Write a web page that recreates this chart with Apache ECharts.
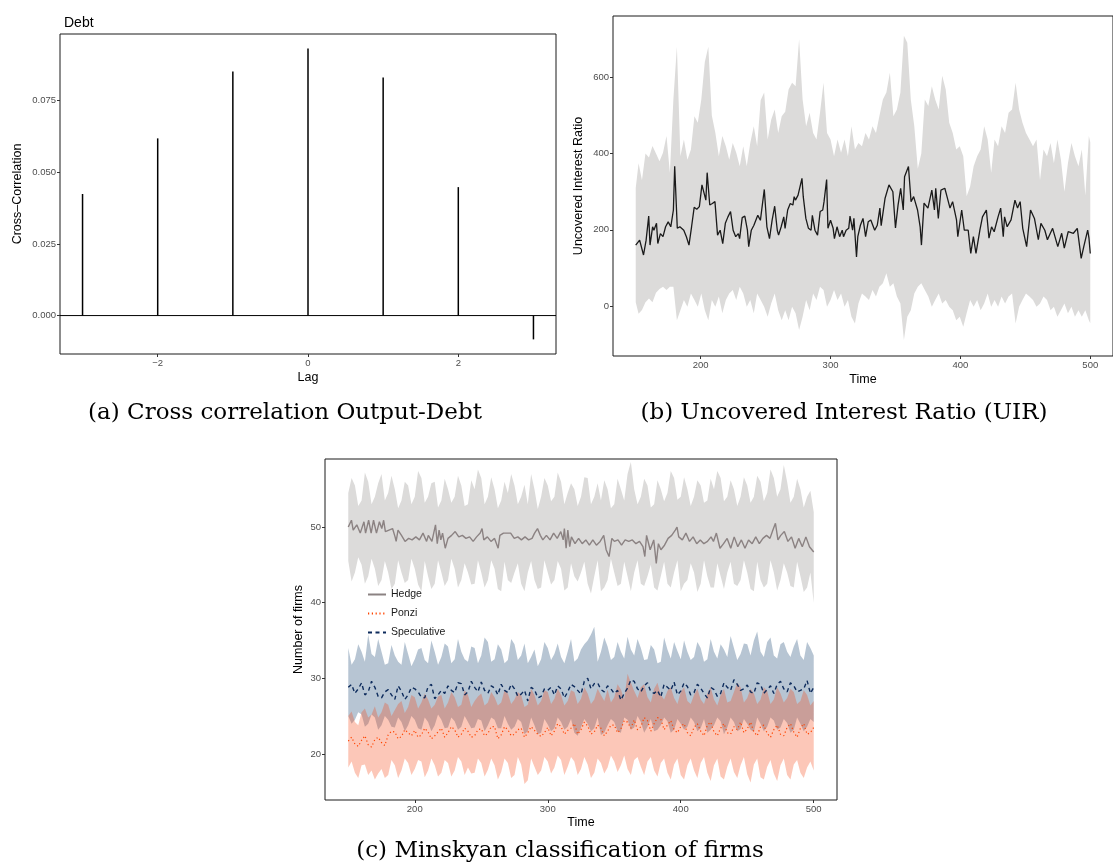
<!DOCTYPE html>
<html>
<head>
<meta charset="utf-8">
<script src="https://cdn.jsdelivr.net/npm/echarts@6/dist/echarts.min.js"></script>
<style>html,body{margin:0;padding:0;background:#fff;}#c{width:1113px;height:867px;}</style>
</head>
<body>
<div id="c"></div>
<script>
// ---------- Panel (a): cross correlation Output-Debt ----------
const lags = [-3, -2, -1, 0, 1, 2, 3];
const ccf = [0.0424, 0.0618, 0.0851, 0.0931, 0.0830, 0.0448, -0.0083];
const ccfTicks = [0, 0.025, 0.05, 0.075];
const lagTicks = [-2, 0, 2];

// ---------- Panel (b): Uncovered Interest Ratio ----------
const uirTime = [150,153,156,158,160,161,163,164,166,167,169,171,173,175,177,179,180,182,184,187,189,191,193,195,197,199,201,202,204,205,207,209,211,213,215,217,219,221,223,225,227,229,230,232,234,236,237,239,241,243,244,246,247,249,251,253,255,257,259,260,262,264,265,267,269,271,272,273,275,276,278,279,281,283,285,286,288,290,292,294,295,297,298,300,302,303,305,307,309,310,312,314,315,317,318,320,321,323,325,327,329,331,334,336,338,339,342,345,348,350,352,354,356,357,360,362,364,367,369,370,372,375,378,380,381,383,385,388,390,392,394,397,398,401,403,406,408,410,412,415,417,420,422,424,426,429,431,433,434,436,439,442,444,446,448,451,454,457,460,462,465,467,471,475,478,480,483,487,490,493,495,498,499,500];
const uirMean = [160,173,134,173,236,160,208,199,217,164,190,182,208,221,208,252,367,204,208,199,182,160,208,259,254,261,318,322,278,350,265,269,274,186,199,164,217,234,248,199,182,190,177,232,236,199,156,199,212,230,238,225,230,306,208,177,225,262,199,186,208,234,204,252,269,265,287,278,291,287,335,287,230,204,199,238,199,186,248,252,274,332,204,225,204,177,208,182,199,182,199,204,236,199,230,129,182,212,230,182,221,226,199,212,257,211,283,318,300,205,265,309,252,339,366,274,287,252,208,160,270,257,304,252,309,230,304,309,283,257,274,226,182,252,199,199,138,182,138,199,234,252,178,208,195,234,257,182,234,208,226,278,257,274,204,156,252,230,174,217,199,174,204,156,191,152,195,191,204,125,156,199,178,138];
const uirBandTime = [150,152.2,154.8,157.5,160.2,162.9,165.6,168.3,171.0,173.7,176.3,179.0,181.7,184.4,187.1,189.8,192.5,195.2,197.8,200.5,203.2,205.9,208.6,211.3,214.0,216.7,219.4,222.0,224.7,227.4,230.1,232.8,235.5,238.2,240.9,243.5,246.2,248.9,251.6,254.3,257.0,259.7,262.4,265.1,267.7,270.4,273.1,275.8,278.5,281.2,283.9,286.6,289.2,291.9,294.6,297.3,300.0,302.7,305.4,308.1,310.8,313.4,316.1,318.8,321.5,324.2,326.9,329.6,332.3,335.0,337.6,340.3,343.0,345.7,348.4,351.1,353.8,356.5,359.1,361.8,364.5,367.2,369.9,372.6,375.3,378.0,380.6,383.3,386.0,388.7,391.4,394.1,396.8,399.5,402.2,404.8,407.5,410.2,412.9,415.6,418.3,421.0,423.7,426.3,429.0,431.7,434.4,437.1,439.8,442.5,445.2,447.8,450.5,453.2,455.9,458.6,461.3,464.0,466.7,469.4,472.0,474.7,477.4,480.1,482.8,485.5,488.2,490.9,493.5,496.2,498.9,500];
const uirUpper = [310,
  375,330,400,390,420,400,380,402,446,349,
  542,680,393,437,384,411,498,481,542,640,
  680,500,455,393,446,419,384,428,402,367,
  419,367,428,472,419,540,560,437,489,516,
  454,498,510,568,586,577,700,542,472,507,
  454,437,507,586,454,437,393,437,402,437,
  393,472,411,428,419,454,437,472,454,498,
  542,560,612,498,516,560,709,691,542,472,
  360,400,542,525,577,542,516,604,568,481,
  454,411,419,393,288,314,367,393,411,472,
  437,350,437,419,472,454,507,516,586,516,
  481,454,437,419,437,330,411,393,428,375,
  437,384,300,375,428,393,367,411,290,446,
  430];
const uirLower = [10,
  -20,-10,10,20,10,35,45,51,42,51,
  51,-37,-11,16,-2,33,16,-2,33,-11,
  -37,16,-2,25,-19,16,33,42,16,51,
  33,-2,16,-19,33,16,-2,-28,7,33,
  -11,-37,-11,-37,-2,-19,-63,-28,16,-11,
  33,16,51,42,-2,16,42,16,33,-2,
  16,-28,-46,7,33,25,16,42,25,51,
  60,86,51,60,25,7,-89,-28,-11,33,
  51,60,42,25,-2,16,33,7,16,-2,
  -11,-37,-28,-54,-19,16,-2,16,-11,7,
  33,-2,16,-2,25,7,25,33,-46,-2,
  16,33,25,16,-2,7,25,16,-11,-2,
  -28,-11,7,-19,-2,-28,-11,-28,-11,-37,
  -45];
const uirTicks = [0, 200, 400, 600];
const timeTicks = [200, 300, 400, 500];

// ---------- Panel (c): Minskyan classification ----------
const hedgeTime = [150,152.4,153.7,156.4,159,161.8,163,165.3,167.2,169,171.2,173.4,175.2,176.6,177.9,180.6,183.3,185.2,186,187.4,190,192.7,195.4,198,200.8,203.5,206.2,208.9,210.2,212.9,215.6,216.9,218.3,219.6,220.9,222.9,225,227.7,230.4,233.1,235.8,238.5,241.2,243.9,246.5,249.2,250.6,251.9,254.6,257.3,260,262.7,264,266.7,269.4,272.1,274.8,277.5,280.2,282.9,285.6,288.2,290.1,292.3,294.4,296.3,299,301.7,304.4,307.1,309.8,311.6,312.5,313.8,315.1,316.5,317.8,320.5,323.2,325.9,328.6,331.3,333.9,336.6,339.4,342.1,343.9,346.1,348.2,350.1,352.8,355.5,358.2,360.9,363.6,366.3,369,371.6,373,374.3,377,379.7,381.6,383.2,385.1,387.8,390.5,393.2,395.9,397.2,398.5,401.2,403.9,406.6,409.3,412,414.7,417.4,420.1,422.8,424.6,426.8,429.5,432.2,434.9,437.6,440.2,442.9,445.6,448.3,451,453.7,456.4,459.1,461.8,464.5,467.1,469.3,471.2,473.1,475.2,477.9,480.6,483.3,486,488.7,491.4,494.1,496.8,500];
const hedgeMean = [50.0,50.9,49.6,50.3,49.2,50.7,49.2,50.9,49.2,50.9,49.2,50.7,49.8,50.9,49.4,49.6,49.8,48.7,48.1,49.6,48.9,48.1,48.5,48.3,48.7,48.3,49.2,48.1,48.9,48.1,50.3,47.8,49.6,48.3,49.2,47.2,48.5,48.9,49.4,48.7,48.9,48.5,48.7,48.1,48.7,49.2,49.8,48.3,48.7,48.1,48.5,47.2,48.9,49.2,49.2,49.2,48.5,48.7,48.3,48.7,48.3,48.5,49.2,49.8,48.9,48.3,48.9,48.3,49.2,48.5,49.4,48.3,49.8,47.2,49.6,47.4,48.7,47.8,48.5,47.8,48.3,47.6,48.3,47.6,48.1,48.9,47.0,46.1,48.5,48.1,48.3,47.6,48.3,48.1,48.3,47.8,48.1,47.4,46.1,48.9,47.0,48.3,45.2,47.8,47.0,47.6,48.5,48.9,49.6,50.0,48.7,48.3,49.2,48.1,48.7,47.8,48.3,47.8,48.1,48.7,48.1,49.2,47.2,47.8,48.5,47.2,48.7,47.4,48.3,47.2,48.3,47.8,48.7,47.8,48.5,48.9,48.5,49.6,50.5,48.3,48.9,49.4,48.1,48.7,47.2,48.5,47.4,48.7,47.4,46.7];
// step-5 readings at 150..500 and in-between readings at 152.5..497.5
const pcTime = [150,155,160,165,170,175,180,185,190,195,200,205,210,215,220,225,230,235,240,245,250,255,260,265,270,275,280,285,290,295,300,305,310,315,320,325,330,335,340,345,350,355,360,365,370,375,380,385,390,395,400,405,410,415,420,425,430,435,440,445,450,455,460,465,470,475,480,485,490,495,500];
const pcTimeMid = [152.5,157.5,162.5,167.5,172.5,177.5,182.5,187.5,192.5,197.5,202.5,207.5,212.5,217.5,222.5,227.5,232.5,237.5,242.5,247.5,252.5,257.5,262.5,267.5,272.5,277.5,282.5,287.5,292.5,297.5,302.5,307.5,312.5,317.5,322.5,327.5,332.5,337.5,342.5,347.5,352.5,357.5,362.5,367.5,372.5,377.5,382.5,387.5,392.5,397.5,402.5,407.5,412.5,417.5,422.5,427.5,432.5,437.5,442.5,447.5,452.5,457.5,462.5,467.5,472.5,477.5,482.5,487.5,492.5,497.5];
const hedgeUpper = [54.5,55.5,53.5,56,54,57,54.5,55,53.5,55.5,54,56.5,54,56,53.5,55,54,55.5,53,55,56.5,54,55,53.5,54.5,55.5,54,53,55,54,55.5,54,56,54.5,55,54,56.5,54,53.5,55,53,55,57,55,54,55.5,53,55,54.5,56.5,54,55,54,55.5,53.5,55,56.5,54,55,54,55.5,54,56,54.5,56.5,55,56,54,55,54,52];
const hedgeUpperMid = [56.5,52.8,57.2,53,55.8,53.5,56.8,52.5,56,53,57.4,53.2,55.8,52.6,56.4,53.2,56.8,52.8,56.2,57.6,53,56.6,52.5,56,57,53,55.6,57,52.4,56.5,53.4,57.2,53,55.8,52.8,56.6,53,55.8,56.2,52.5,56.4,53.5,58.6,53,56.4,52.6,56.2,53.4,57.4,53.6,56.6,52.8,56.2,53.2,56.4,57.4,53.4,56.2,52.8,56.6,53.2,56.8,53.4,57.6,54,58.2,53.2,56.4,52.6,54.8];
const hedgeLower = [45.5,44,45,43.5,44.5,43,44,42.5,44,43,44.5,41.5,43.5,42.5,44,43,44.5,43,44,42.5,44,43,44.5,41.5,43,44,42.5,44,43,42,44,43,44.5,42,43.5,44,42.5,43.5,41.5,43,44,42.5,43.5,44,42.5,43.5,42,43.5,42.5,44,41.5,43,44,42.5,43.5,42,43.5,44,42.5,43,44,41.5,43,42.5,44,43,44,42,43.5,42,40];
const hedgeLowerMid = [42.8,46,42.5,45.8,42.2,45.5,41.8,45.6,42.6,45.8,42.4,45.5,41.8,45.6,42.2,45.8,42,45.2,42.4,45.6,42,45.6,41.8,45.4,42.6,45.2,41.5,45.5,41.8,45.6,42.4,45.5,41.6,45.2,42.8,45.4,41.2,45.6,42,45.8,42.2,45.4,41.5,45.6,42.2,45,41.6,45.4,42,45.6,42.5,45.2,41.4,45.6,42,45.2,41.8,45.4,42.2,45.6,41.8,45.4,42,45.6,41.6,45.2,42.2,45.4,41.4,44];
const specMean = [28.8,28.0,29.4,28.2,28.8,27.4,28.5,27.2,28.3,27.8,28.6,27.5,28.9,27.3,28.4,29.0,28.1,29.3,28.2,28.8,29.5,28.0,28.7,29.2,28.1,28.6,27.9,27.0,28.5,27.6,28.4,27.8,28.6,28.2,28.9,27.9,30.0,29.3,28.5,29.0,28.0,27.1,28.7,29.6,28.2,29.4,28.0,27.5,28.8,29.5,28.3,28.9,28.1,28.7,27.4,28.5,28.0,28.8,29.8,28.4,29.1,28.0,29.2,28.5,28.0,29.6,28.2,29.0,28.4,29.7,28.8];
const specMeanMid = [29.2,28.6,27.8,29.6,27.6,28.2,27.8,29.0,27.2,28.8,28.2,27.4,29.2,27.8,28.0,28.4,29.4,27.8,29.6,28.2,28.4,29.0,27.8,28.4,29.2,27.6,28.4,28.8,27.4,28.6,28.8,29.0,27.4,29.2,28.4,29.6,28.6,29.4,28.2,28.6,28.4,28.0,29.8,28.6,29.0,28.2,28.4,29.2,28.4,27.8,29.4,27.8,29.2,28.0,28.8,27.6,29.4,28.4,29.2,28.6,28.2,29.4,28.0,29.0,29.2,28.6,29.4,28.2,28.6,28.0];
const specUpper = [34,32.5,33.5,35.8,32.8,33.5,32,33,31.8,33.2,32.5,34,32,33.5,32.8,34.2,32.5,33.5,32.2,34,33,34.8,32.5,33.8,32.4,34.5,33,32,33.8,32.5,34,33.2,32.8,33.5,32.2,33.8,35,36.8,33.5,34.2,32.8,33.5,35.5,33,34,32.5,33.8,32.2,33.8,34.8,32.5,33.5,32.8,34,32.5,33.5,34.5,32.8,34,33.2,34.5,35,33.5,34.8,33,34.5,33.5,34.2,33,34.8,33];
const specUpperMid = [31.8,34.5,32.2,33.2,35.2,31.8,34.4,32.2,34.8,31.6,33.8,32.4,35,31.8,34.6,32,35.2,32.5,34.2,32,35.4,32.2,34.5,32,35.2,32.4,34.6,32.8,31.6,34.8,32.4,34.6,32,35.2,32.6,34.5,35.8,32.2,35.4,32.4,34.8,32.6,33.8,35.2,32.4,34.4,32,35.4,32.6,33.6,35,32.4,34.8,32.2,35.2,32.6,33.8,35.6,32.4,34.6,33,36.2,32.8,35.4,32.6,34.8,32.8,35.2,32.4,34];
const specLower = [25,24.5,25.2,24,24.8,23.8,24.5,23.5,24.2,23.8,24.5,23.2,24.2,23.8,24.5,23.5,24.3,23.6,24.2,23.5,24.4,23.8,24.5,23.4,24,23.6,24.2,23,23.8,22.8,23.9,23.4,24.2,23.6,22.8,23.5,24,23.4,22.5,23.8,24.2,22.8,24.5,23.5,24.2,23.6,23,23.8,24.3,23.2,24,23.6,24.2,23.4,22.8,23.8,24.3,23.5,24.2,23.3,24,22.9,24,23.6,24.4,23.5,24.1,23.2,24,23.6,24.2];
const specLowerMid = [24,25.5,23.6,25.2,23.2,25,23.6,24.8,23,25,23.4,24.8,23,25.2,23.4,24.8,23.2,25,23.4,24.6,23,24.8,23.4,25,23.2,24.6,22.6,24.8,22.6,24.6,23,24.8,23.2,24.6,22.4,24.6,23,24.8,22.8,24.6,23,24.8,23.2,25,22.8,24.6,23.2,24.8,22.8,24.6,23.2,24.8,23,24.6,23.2,24.8,22.6,24.8,23,24.6,23.2,24.8,23,24.8,23.2,24.6,22.8,24.8,23,24.6];
const ponziMean = [21.7,21.3,21.8,21.2,21.9,21.5,22.5,22.9,22.3,22.8,23.1,22.5,22.9,22.4,23.4,22.8,23.2,22.6,23.0,22.4,23.3,22.7,23.6,22.5,23.2,22.6,23.4,22.8,23.1,22.3,23.5,23.0,23.6,23.1,24.0,23.2,23.7,22.9,23.4,23.0,23.8,23.3,24.2,24.5,23.6,24.4,24.0,24.6,23.8,23.2,23.6,22.8,23.5,23.0,23.8,22.9,23.4,22.8,23.6,24.2,23.3,22.9,23.6,22.7,23.2,22.6,23.5,22.9,23.4,22.6,23.5];
const ponziMeanMid = [22.2,21.0,22.4,20.9,22.2,21.1,23.0,22.0,23.2,22.4,22.2,23.4,22.0,22.9,22.2,23.6,22.2,23.4,22.2,23.2,22.4,23.6,22.0,23.6,22.4,23.2,22.2,23.6,22.6,22.8,22.4,24.0,22.6,23.4,22.6,24.2,22.6,23.8,22.4,23.8,22.8,24.4,23.4,23.2,24.8,23.0,24.8,23.2,24.4,22.8,24.0,22.4,24.0,22.4,24.2,22.4,24.0,22.6,23.2,22.8,24.2,22.4,23.8,22.2,23.8,22.4,24.0,22.2,24.0,22.8];
const ponziUpper = [25,24.2,25.5,24.8,26.3,25.5,26.5,25.8,27,26.2,27.5,26.8,27.2,26.5,27.8,26.8,27.5,26.5,27.8,27,28,26.8,27.5,26.8,28,27.2,27.8,26.5,27.8,27,28.2,27.3,27.8,27,28.2,27.3,28,27.2,27.8,28.5,27.5,28.5,30.6,28.3,28.8,27.5,28.6,27.8,28.3,27.4,28.2,27,27.8,27.2,28,27.2,27.8,26.8,28.2,28.8,27.4,28,27.2,28.3,27.2,28,27.4,28.2,27,27.8,27];
const ponziUpperMid = [25.6,23.8,26,25.2,24.8,26.8,25,26.6,25.4,27.8,26,28,26,27.6,26,28.2,26.2,28.4,26.2,27.6,26.4,28.2,26.4,28.4,26.6,28.2,26.2,28.6,26.4,28.4,26.6,28.6,26.4,28.4,26.6,28.8,26.6,28.6,27,26.8,29.2,27.2,29.4,27.4,29.2,26.8,29.4,27.2,28.8,26.6,28.8,26.6,28.6,26.6,28.8,26.4,28.6,27,29.4,26.8,28.6,26.6,28.8,26.6,28.8,26.8,28.6,26.6,28.4,26.4];
const ponziLower = [18.2,17.5,18.5,17.2,16.6,18,17.2,18.5,17.8,18.8,18,19,17.8,18.5,17.5,18.8,17.8,19,18.2,17.5,18.8,17.9,18.5,17.6,18.8,17.2,18.6,16.5,18.3,17.8,19,18.2,19.2,18.3,19,18,18.6,17.5,18.8,18.2,19,18.5,18,19.2,18.3,19,17.8,18.8,17.5,18.6,17.2,18.5,17.8,18.8,17.5,18.5,17,18.3,17.6,18.5,17.3,18.6,16.9,18.3,17.4,18.5,17.2,18.6,17.5,18.2,17.8];
const ponziLowerMid = [19,16.8,18.6,17.8,17.4,16.8,19.2,16.8,19.4,17.2,19.2,16.9,19.4,17,19.2,17,19.6,17.2,17.4,19.4,17,19.4,16.6,19.4,16.8,19.6,16,19.4,17.2,19.6,17.4,19.8,17.2,19.6,17.2,19.6,16.8,19.4,17.4,19.8,17.6,19.8,17.2,19.6,17.2,19.6,17,19.4,16.6,19.4,16.6,19.4,16.8,19.6,16.4,19.4,16.6,19.4,16.8,19.6,16.2,19.4,16.6,19.2,16.4,19.4,16.6,19.2,16.8,19];
const firmTicks = [20, 30, 40, 50];
const captions = ['(a) Cross correlation Output-Debt', '(b) Uncovered Interest Ratio (UIR)', '(c) Minskyan classification of firms'];

// ---------- build ----------
const SANS = '"Liberation Sans", Arial, sans-serif';
const SERIF = '"DejaVu Serif", serif';
const zip2 = (a, b) => a.map((v, i) => [v, b[i]]);
const weave = (a, b) => { const r = []; a.forEach((v, i) => { r.push(v); if (i < b.length) r.push(b[i]); }); return r; };
const minus = v => (v < 0 ? '\u2212' + Math.abs(v) : String(v));
const cTime = weave(pcTime, pcTimeMid);

function band(name, gi, times, lo, hi, color) {
  return {
    name: name, type: 'custom', xAxisIndex: gi, yAxisIndex: gi, silent: true, clip: true, z: 1,
    data: times.map((t, i) => [t, lo[i], hi[i]]),
    encode: { x: 0, y: [1, 2] },
    renderItem: function (params, api) {
      if (params.dataIndex !== 0) return null;
      const pts = [];
      for (let i = 0; i < times.length; i++) pts.push(api.coord([times[i], hi[i]]));
      for (let i = times.length - 1; i >= 0; i--) pts.push(api.coord([times[i], lo[i]]));
      return { type: 'polygon', shape: { points: pts }, style: { fill: color } };
    }
  };
}

function xAx(gi, min, max, ticks, name, gap) {
  return {
    type: 'value', gridIndex: gi, min: min, max: max,
    name: name, nameLocation: 'middle', nameGap: gap,
    nameTextStyle: { fontSize: 12.5, color: '#000', fontFamily: SANS },
    axisLine: { show: false, onZero: false }, splitLine: { show: false },
    axisTick: { show: true, length: 3, lineStyle: { color: '#333' }, customValues: ticks },
    axisLabel: { fontSize: 9.5, color: '#4d4d4d', margin: 4, fontFamily: SANS, customValues: ticks, formatter: minus }
  };
}
function yAx(gi, min, max, ticks, name, gap, fmt) {
  return {
    type: 'value', gridIndex: gi, min: min, max: max,
    name: name, nameLocation: 'middle', nameGap: gap, nameRotate: 90,
    nameTextStyle: { fontSize: 12.5, color: '#000', fontFamily: SANS },
    axisLine: { show: false, onZero: false }, splitLine: { show: false },
    axisTick: { show: true, length: 3, lineStyle: { color: '#333' }, customValues: ticks },
    axisLabel: { fontSize: 9.5, color: '#4d4d4d', margin: 4, fontFamily: SANS, customValues: ticks, formatter: fmt }
  };
}

const chart = echarts.init(document.getElementById('c'), null, { renderer: 'canvas' });
const option = {
  animation: false,
  backgroundColor: '#fff',
  textStyle: { fontFamily: SANS },
  title: { text: 'Debt', left: 59, top: 11, textStyle: { fontSize: 14, fontWeight: 'normal', color: '#000', fontFamily: SANS } },
  grid: [
    { left: 60, top: 34, width: 496, height: 320, show: true, borderColor: '#1a1a1a', borderWidth: 1, backgroundColor: 'transparent' },
    { left: 613, top: 16, width: 505, height: 340, show: true, borderColor: '#1a1a1a', borderWidth: 1, backgroundColor: 'transparent' },
    { left: 325, top: 459, width: 512, height: 341, show: true, borderColor: '#1a1a1a', borderWidth: 1, backgroundColor: 'transparent' }
  ],
  xAxis: [
    xAx(0, -3.3, 3.3, lagTicks, 'Lag', 17),
    xAx(1, 132.5, 517.5, timeTicks, 'Time', 17),
    xAx(2, 132.5, 517.5, timeTicks, 'Time', 16)
  ],
  yAxis: [
    yAx(0, -0.0134, 0.0982, ccfTicks, 'Cross\u2013Correlation', 36, v => v.toFixed(3)),
    yAx(1, -131, 761, uirTicks, 'Uncovered Interest Ratio', 28, v => String(v)),
    yAx(2, 13.9, 59, firmTicks, 'Number of firms', 20, v => String(v))
  ],
  legend: {
    data: ['Hedge', 'Ponzi', 'Speculative'],
    orient: 'vertical', left: 362, top: 584, itemWidth: 18, itemHeight: 12, itemGap: 8,
    selectedMode: false,
    itemStyle: { color: 'rgba(0,0,0,0)', borderColor: 'rgba(0,0,0,0)', borderWidth: 0 },
    textStyle: { fontSize: 10.5, color: '#1a1a1a', fontFamily: SANS }
  },
  graphic: [
    { type: 'text', x: 285, y: 413, style: { text: captions[0], fontSize: 23, fontFamily: SERIF, fill: '#000', align: 'center', verticalAlign: 'middle' } },
    { type: 'text', x: 844, y: 413, style: { text: captions[1], fontSize: 23, fontFamily: SERIF, fill: '#000', align: 'center', verticalAlign: 'middle' } },
    { type: 'text', x: 560, y: 851, style: { text: captions[2], fontSize: 23, fontFamily: SERIF, fill: '#000', align: 'center', verticalAlign: 'middle' } }
  ],
  series: [
    // panel a
    { type: 'line', xAxisIndex: 0, yAxisIndex: 0, data: [[-3.3, 0], [3.3, 0]], symbol: 'none', silent: true,
      lineStyle: { color: '#000', width: 1 }, z: 2 },
    { type: 'custom', xAxisIndex: 0, yAxisIndex: 0, data: zip2(lags, ccf), z: 3,
      renderItem: function (params, api) {
        const p0 = api.coord([api.value(0), 0]);
        const p1 = api.coord([api.value(0), api.value(1)]);
        return { type: 'line', shape: { x1: p0[0], y1: p0[1], x2: p1[0], y2: p1[1] }, style: { stroke: '#000', lineWidth: 1.5 } };
      } },
    // panel b
    band('uirBand', 1, uirBandTime, uirLower, uirUpper, '#dcdbda'),
    { name: 'UIR', type: 'line', xAxisIndex: 1, yAxisIndex: 1, data: zip2(uirTime, uirMean), symbol: 'none', z: 3,
      itemStyle: { color: '#1a1a1a' }, lineStyle: { color: '#1a1a1a', width: 1.3 } },
    // panel c
    band('hedgeBand', 2, cTime, weave(hedgeLower, hedgeLowerMid), weave(hedgeUpper, hedgeUpperMid), '#dcdbda'),
    band('specBand', 2, cTime, weave(specLower, specLowerMid), weave(specUpper, specUpperMid), 'rgba(16,64,110,0.3)'),
    band('ponziBand', 2, cTime, weave(ponziLower, ponziLowerMid), weave(ponziUpper, ponziUpperMid), 'rgba(245,70,20,0.3)'),
    { name: 'Hedge', type: 'line', xAxisIndex: 2, yAxisIndex: 2, data: zip2(hedgeTime, hedgeMean), symbol: 'none', z: 3,
      itemStyle: { color: '#8b8282' }, lineStyle: { color: '#8b8282', width: 1.4 } },
    { name: 'Speculative', type: 'line', xAxisIndex: 2, yAxisIndex: 2, data: zip2(cTime, weave(specMean, specMeanMid)), symbol: 'none', z: 3,
      itemStyle: { color: '#0d2b5c' }, lineStyle: { color: '#0d2b5c', width: 1.4, type: [4, 3.5] } },
    { name: 'Ponzi', type: 'line', xAxisIndex: 2, yAxisIndex: 2, data: zip2(cTime, weave(ponziMean, ponziMeanMid)), symbol: 'none', z: 3,
      itemStyle: { color: '#ff4500' }, lineStyle: { color: '#ff4500', width: 1.2, type: [1.2, 2.6] } }
  ]
};
chart.setOption(option);
</script>
</body>
</html>
